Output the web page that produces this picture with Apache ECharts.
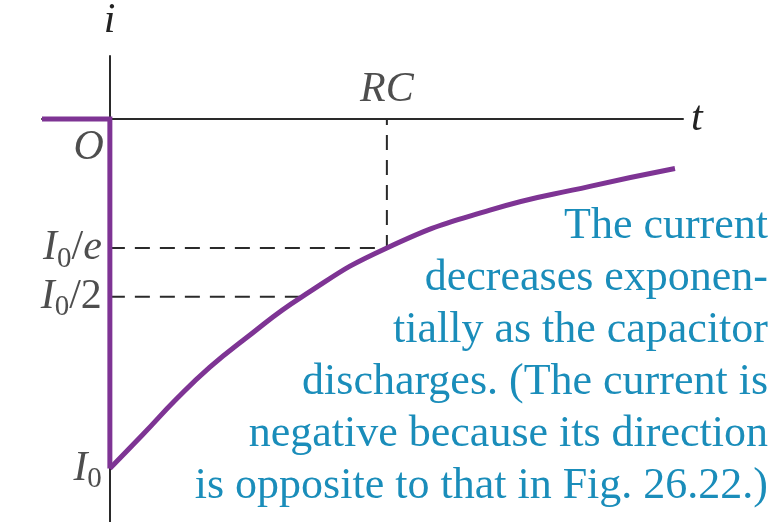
<!DOCTYPE html>
<html><head><meta charset="utf-8">
<script src="https://cdn.jsdelivr.net/npm/echarts@6/dist/echarts.min.js"></script>
<style>html,body{margin:0;background:#fff}#c{width:780px;height:522px}</style></head>
<body><div id="c"></div>
<script>
// time in units of RC, current in units of I0 (negative)
const curveT = [0, 0.119, 0.242, 0.361, 0.480, 0.693, 1.0, 1.372, 1.733, 2.04];
const curveI = [-1, -0.903, -0.800, -0.710, -0.634, -0.509, -0.369, -0.261, -0.193, -0.142];
const leadT = [-0.245, 0, 0];
const leadI = [0, 0, -1];
const guideE_T = [0, 1, 1];
const guideE_I = [-0.369, -0.369, 0];
const guideHalf_T = [0, 0.69];
const guideHalf_I = [-0.509, -0.509];
const tickNames = ['I0/e', 'I0/2', 'I0'];
const tickValues = [-0.369, -0.509, -1];
const noteLines = ['The current', 'decreases exponen-', 'tially as the capacitor', 'discharges. (The current is', 'negative because its direction', 'is opposite to that in Fig. 26.22.)'];

const PURPLE = '#7e3494', DARK = '#2a2a2a', BLUE = '#1a8dba';
const SERIF = '"Liberation Serif", "DejaVu Serif", serif';
const zip = (a, b) => a.map((v, k) => [v, b[k]]);

const richStyle = {
  i: {fontFamily: SERIF, fontStyle: 'italic', fontSize: 42, color: '#222', lineHeight: 44},
  s: {fontFamily: SERIF, fontSize: 29, color: '#222', padding: [22, 0, 0, 0], lineHeight: 29},
  n: {fontFamily: SERIF, fontSize: 42, color: '#222', lineHeight: 44},
  e: {fontFamily: SERIF, fontStyle: 'italic', fontSize: 42, color: '#222', lineHeight: 44}
};
function tickFmt(name) {
  if (name === 'I0') return '{i|I}{s|0}';
  if (name === 'I0/e') return '{i|I}{s|0}{n|/}{e|e}';
  return '{i|I}{s|0}{n|/2}';
}

const chart = echarts.init(document.getElementById('c'), null, {renderer: 'canvas'});
chart.setOption({
  animation: false,
  backgroundColor: '#fff',
  grid: {left: 42, top: 55, width: 641, height: 469},
  xAxis: {
    type: 'value', min: -0.245, max: 2.069,
    axisLine: {onZero: true, lineStyle: {color: DARK, width: 2}},
    axisTick: {show: false}, axisLabel: {show: false}, splitLine: {show: false},
    name: 't', nameLocation: 'end', nameGap: 8,
    nameTextStyle: {fontFamily: SERIF, fontStyle: 'italic', fontSize: 42, color: '#222', verticalAlign: 'middle'}
  },
  yAxis: {
    type: 'value', min: -1.153, max: 0.18,
    axisLine: {onZero: true, lineStyle: {color: DARK, width: 2}},
    axisTick: {show: false}, axisLabel: {show: false}, splitLine: {show: false},
    name: 'i', nameLocation: 'end', nameGap: 14,
    nameTextStyle: {fontFamily: SERIF, fontStyle: 'italic', fontSize: 42, color: '#222', align: 'left', padding: [0, 0, 0, -6]}
  },
  graphic: noteLines.map((line, k) => ({
    type: 'text', x: 768, y: 226 + 52 * k,
    style: {text: line, align: 'right', verticalAlign: 'middle', font: '44px ' + SERIF, fill: BLUE}
  })),
  series: [
    {type: 'line', data: zip(guideE_T, guideE_I), symbol: 'none', lineStyle: {color: DARK, width: 2, type: [15, 10]}, z: 1},
    {type: 'line', data: zip(guideHalf_T, guideHalf_I), symbol: 'none', lineStyle: {color: DARK, width: 2, type: [15, 10]}, z: 1},
    {type: 'line', data: zip(leadT, leadI), symbol: 'none', lineStyle: {color: PURPLE, width: 5, join: 'miter'}, z: 3},
    {type: 'line', data: zip(curveT, curveI), symbol: 'none', smooth: 0.5, lineStyle: {color: PURPLE, width: 5}, z: 3},
    {type: 'scatter', symbolSize: 0, z: 4,
      data: tickValues.map((v, k) => ({value: [0, v], name: tickNames[k]})),
      label: {show: true, position: 'left', distance: 8, formatter: p => tickFmt(p.name), rich: richStyle}},
    {type: 'scatter', symbolSize: 0, z: 4,
      data: [{value: [0, 0], name: 'O'}],
      label: {show: true, position: 'left', distance: 6, offset: [0, 29], formatter: 'O', fontFamily: SERIF, fontStyle: 'italic', fontSize: 42, color: '#222'}},
    {type: 'scatter', symbolSize: 0, z: 4,
      data: [{value: [1, 0], name: 'RC'}],
      label: {show: true, position: 'top', distance: 8, formatter: 'RC', fontFamily: SERIF, fontStyle: 'italic', fontSize: 42, color: '#222'}}
  ]
});
</script></body></html>
